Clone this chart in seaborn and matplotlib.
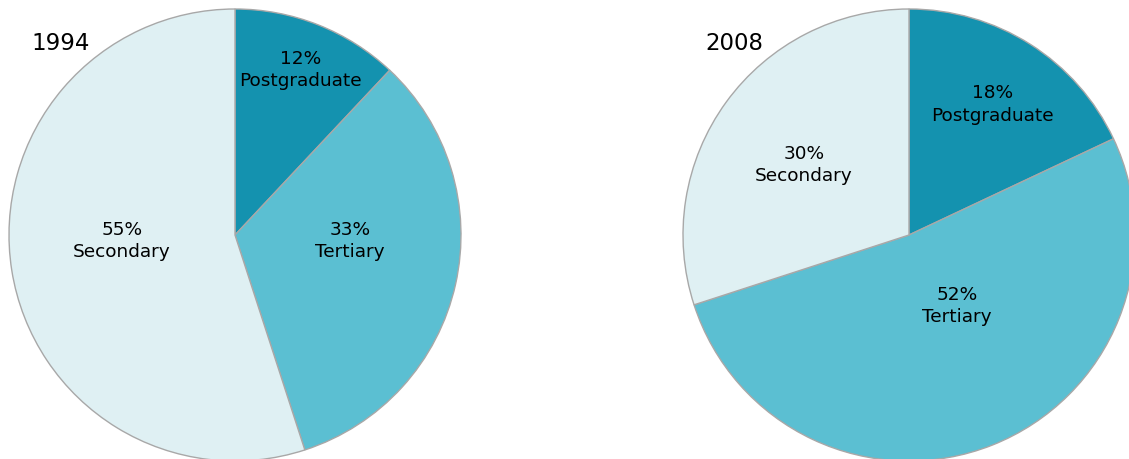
import numpy as np
import matplotlib
matplotlib.use("Agg")
import matplotlib.pyplot as plt
import seaborn as sns

# --- DADOS ---
years = ["1994", "2008"]
categories = ["Postgraduate", "Tertiary", "Secondary"]
shares_1994 = [12, 33, 55]
shares_2008 = [18, 52, 30]

colors = ["#1492AF", "#5BBFD2", "#DFF0F3"]
# posição dos rótulos (fração do raio, desvio de ângulo em graus)
label_dist = {"1994": [0.79, 0.51, 0.50], "2008": [0.69, 0.375, 0.56]}
label_shift = {"1994": [0, 10, -6.5], "2008": [0, 13, 2]}

sns.set_theme(style="white")
plt.rcParams["font.family"] = ["DejaVu Sans"]

fig = plt.figure(figsize=(11.29, 4.6), dpi=100)
W, H = 1129, 460
R = 226


def desenha_pizza(cx, cy, year, values):
    ax = fig.add_axes([(cx - R) / W, (H - cy - R) / H, 2 * R / W, 2 * R / H])
    wedges, _ = ax.pie(values, colors=colors, startangle=90, counterclock=False,
                       radius=1, wedgeprops=dict(edgecolor="#A8A8A8", linewidth=1))
    for w, v, name, d, s in zip(wedges, values, categories, label_dist[year], label_shift[year]):
        ang = np.deg2rad((w.theta1 + w.theta2) / 2 + s)
        ax.text(d * np.cos(ang), d * np.sin(ang), f"{v}%\n{name}", ha="center", va="center",
                fontsize=13.3, color="black", linespacing=1.32)
    ax.text(-0.9, 0.85, year, ha="left", va="center", fontsize=16.5, color="black")
    ax.set_xlim(-1, 1)
    ax.set_ylim(-1, 1)
    ax.set_aspect("equal")
    ax.axis("off")


desenha_pizza(235, 236, years[0], shares_1994)
desenha_pizza(909, 236, years[1], shares_2008)

fig.savefig("out.png", dpi=100)
